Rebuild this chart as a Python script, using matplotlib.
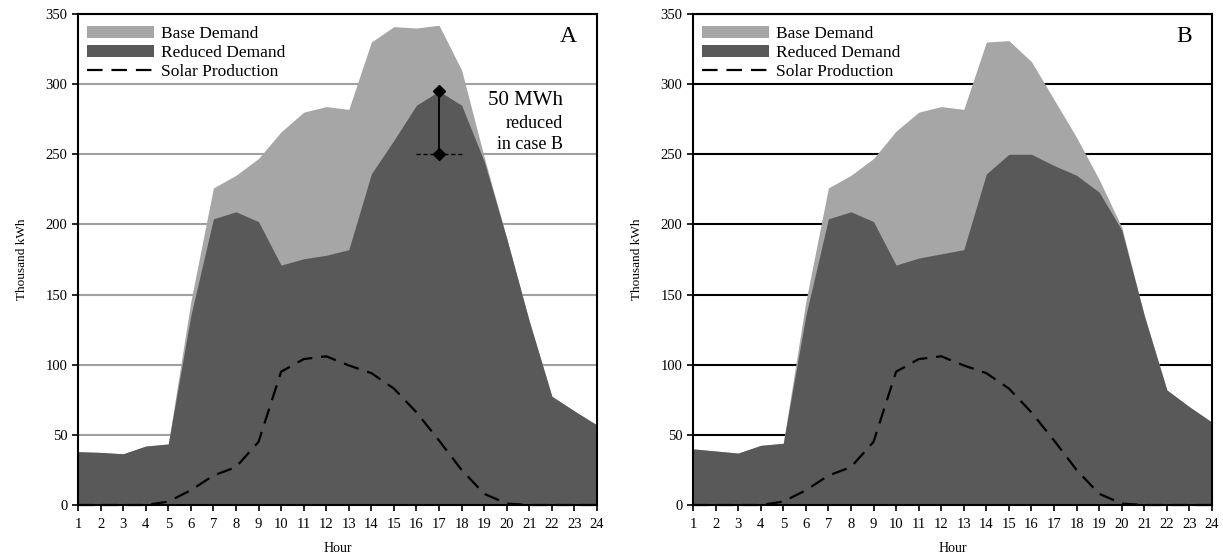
"""Base vs reduced hourly demand with solar production, cases A and B."""

import matplotlib

matplotlib.use("Agg")
import matplotlib.pyplot as plt
from matplotlib.lines import Line2D
from matplotlib.patches import Patch

HOURS = list(range(1, 25))

BASE_A = [38, 37.5, 36.5, 42, 43.5, 145, 226, 235, 247, 266, 280, 284,
          282, 330, 341, 340, 342, 310, 248, 190, 131, 77.5, 67, 57]
REDUCED_A = [38, 37.5, 36.5, 42, 43.5, 135, 204, 209, 202, 171, 175.5, 178,
             182, 236, 260, 285, 295, 285, 245, 190, 131, 77.5, 67, 57]

BASE_B = [40, 38.5, 37, 42.5, 44, 145, 226, 235, 247, 266.5, 280, 284,
          282, 330, 331, 316, 289, 262, 232, 198, 135, 82, 70, 59]
REDUCED_B = [40, 38.5, 37, 42.5, 44, 135, 204, 209, 202, 171, 176, 179,
             182, 236, 250, 250, 242, 235, 223, 196, 135, 82, 70, 59]

SOLAR = [0, 0, 0, 0, 2.4, 10.5, 21, 27, 45, 95, 104, 106,
         99.5, 94, 83, 66, 46, 25, 8, 1, 0, 0, 0, 0]

BASE_COLOR = "#a6a6a6"
REDUCED_COLOR = "#595959"
FIG_W, FIG_H = 1223, 557

plt.rcParams["font.family"] = ["Liberation Serif", "DejaVu Serif"]


def draw_panel(axis, base, reduced, letter, grid_color):
    axis.fill_between(HOURS, 0, base, color=BASE_COLOR, linewidth=0, zorder=2)
    axis.fill_between(HOURS, 0, reduced, color=REDUCED_COLOR, linewidth=0, zorder=3)
    axis.plot(HOURS, SOLAR, color="black", linewidth=1.6, dashes=(7, 4),
              zorder=4, clip_on=False)

    axis.set_xlim(1, 24)
    axis.set_ylim(0, 350)
    axis.set_xticks(HOURS)
    axis.set_yticks(range(0, 351, 50))
    axis.tick_params(labelsize=10.5, length=4, width=1.2)
    axis.tick_params(axis="x", pad=5)
    axis.yaxis.grid(True, color=grid_color, linewidth=1.5, zorder=1)
    axis.set_axisbelow(True)
    for spine in axis.spines.values():
        spine.set_linewidth(1.5)
        spine.set_zorder(5)

    axis.set_xlabel("Hour", fontsize=10, labelpad=8)
    axis.set_ylabel("Thousand kWh", fontsize=9.5, labelpad=13)
    axis.text(0.9615, 0.975, letter, transform=axis.transAxes, fontsize=17,
              ha="right", va="top")

    handles = [
        Patch(facecolor=BASE_COLOR, edgecolor="none", label="Base Demand"),
        Patch(facecolor=REDUCED_COLOR, edgecolor="none", label="Reduced Demand"),
        Line2D([], [], color="black", linewidth=1.6, dashes=(7, 4),
               label="Solar Production"),
    ]
    axis.legend(handles=handles, loc="upper left", frameon=False, fontsize=12.5,
                handlelength=3.9, handleheight=0.7, handletextpad=0.4,
                labelspacing=0.17, borderaxespad=0.3, borderpad=0.2,
                bbox_to_anchor=(0.0, 0.994))


figure = plt.figure(figsize=(FIG_W / 100, FIG_H / 100), dpi=100)
axis_a = figure.add_axes([78 / FIG_W, 52 / FIG_H, 519 / FIG_W, 491 / FIG_H])
axis_b = figure.add_axes([693 / FIG_W, 52 / FIG_H, 519 / FIG_W, 491 / FIG_H])

draw_panel(axis_a, BASE_A, REDUCED_A, "A", "#a0a0a0")
draw_panel(axis_b, BASE_B, REDUCED_B, "B", "black")

# reduction marker in panel A
peak_hour = 17
axis_a.plot([peak_hour - 1, peak_hour + 1], [250, 250], color="black",
            linewidth=1, linestyle=(0, (3, 2)), zorder=6)
axis_a.plot([peak_hour, peak_hour], [250, REDUCED_A[peak_hour - 1]],
            color="black", linewidth=1.3, marker="D", markersize=6, zorder=7)
axis_a.text(22.5, 288, "50 MWh", fontsize=15, ha="right", va="center")
axis_a.text(22.5, 272, "reduced", fontsize=13, ha="right", va="center")
axis_a.text(22.5, 257, "in case B", fontsize=13, ha="right", va="center")

figure.savefig("out.png", dpi=100)
